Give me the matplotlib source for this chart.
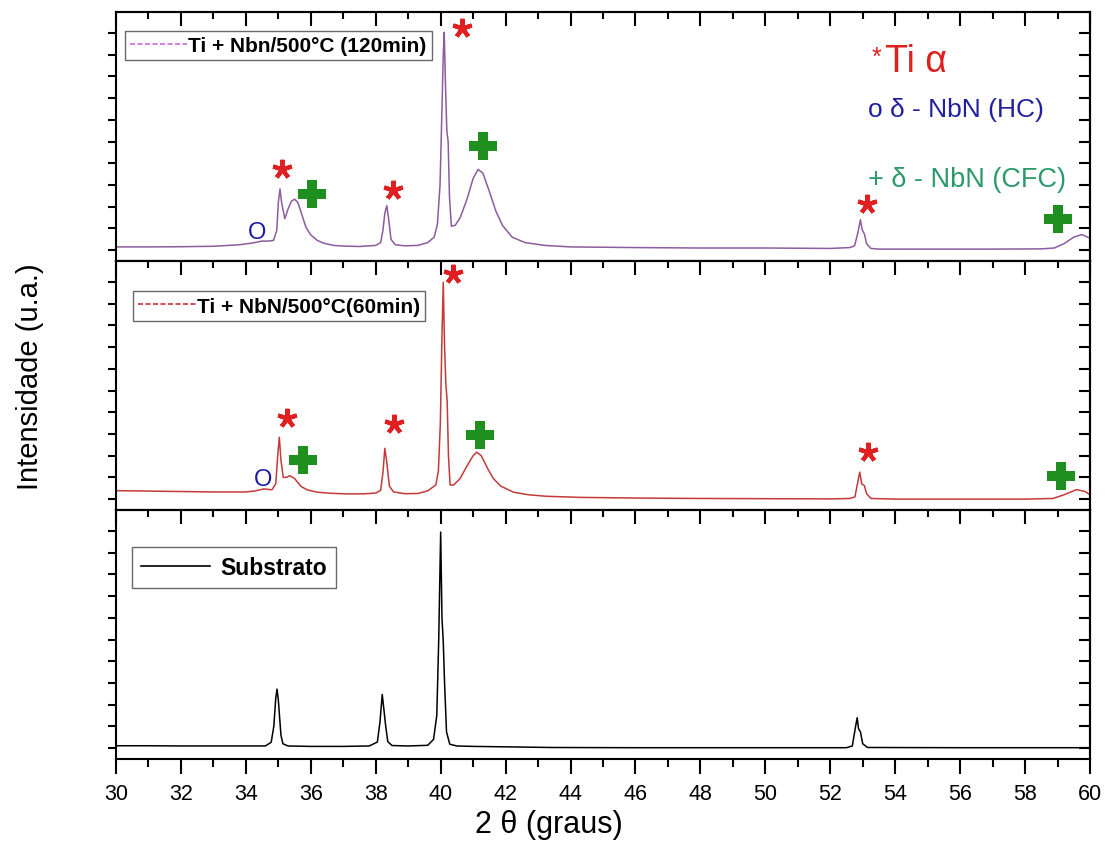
import matplotlib
matplotlib.use("Agg")
import matplotlib.pyplot as plt
from matplotlib.ticker import MultipleLocator
from matplotlib.lines import Line2D

plt.rcParams['font.family'] = ['Liberation Sans', 'DejaVu Sans']

# --- data (2theta in degrees, intensity in arbitrary units) ---
x_top = [30.0, 31.0, 32.0, 33.0, 33.8, 34.2, 34.5, 34.7, 34.85, 34.95, 35.0, 35.05, 35.1, 35.2,
         35.3, 35.4, 35.5, 35.6, 35.7, 35.85, 36.0, 36.2, 36.4, 36.7, 37.0, 37.5, 38.0, 38.15,
         38.22, 38.28, 38.34, 38.4, 38.47, 38.6, 38.9, 39.3, 39.6, 39.8, 39.9, 39.98, 40.04,
         40.08, 40.11, 40.15, 40.19, 40.23, 40.27, 40.33, 40.45, 40.6, 40.8, 41.0, 41.15, 41.3,
         41.5, 41.7, 41.9, 42.2, 42.6, 43.2, 44.0, 46.0, 48.0, 50.0, 52.0, 52.6, 52.75, 52.85,
         52.93, 52.98, 53.05, 53.12, 53.25, 53.5, 55.0, 57.0, 58.5, 58.9, 59.2, 59.5, 59.75, 60.0]
y_top = [0.15, 0.15, 0.16, 0.18, 0.25, 0.33, 0.42, 0.42, 0.45, 0.9, 2.2, 2.82, 2.2, 1.45,
         1.9, 2.25, 2.35, 2.2, 1.75, 1.05, 0.7, 0.45, 0.32, 0.22, 0.19, 0.17, 0.22, 0.35,
         0.9, 1.7, 2.05, 1.4, 0.5, 0.25, 0.2, 0.22, 0.35, 0.6, 1.2, 3.0, 6.5,
         9.0, 10.04, 7.5, 5.5, 5.0, 2.5, 1.1, 1.15, 1.5, 2.3, 3.3, 3.72, 3.55,
         2.7, 1.8, 1.15, 0.6, 0.35, 0.22, 0.15, 0.12, 0.1, 0.1, 0.08, 0.12, 0.2, 0.8,
         1.4, 0.95, 0.75, 0.3, 0.08, 0.05, 0.05, 0.05, 0.06, 0.1, 0.3, 0.6, 0.72, 0.55]

x_mid = [30.0, 31.0, 32.0, 33.0, 34.0, 34.3, 34.55, 34.8, 34.92, 34.98, 35.03, 35.08, 35.15,
         35.25, 35.35, 35.5, 35.7, 35.9, 36.2, 36.6, 37.1, 37.6, 38.0, 38.15, 38.22, 38.28,
         38.34, 38.42, 38.55, 38.9, 39.3, 39.6, 39.85, 39.93, 39.99, 40.04, 40.08, 40.12,
         40.16, 40.2, 40.24, 40.29, 40.4, 40.6, 40.8, 41.0, 41.11, 41.25, 41.45, 41.62, 41.85,
         42.24, 42.7, 43.26, 44.29, 46.0, 48.0, 50.0, 52.0, 52.6, 52.76, 52.85, 52.91, 52.97,
         53.05, 53.12, 53.25, 54.0, 56.0, 58.0, 58.86, 59.2, 59.59, 59.85, 60.0]
y_mid = [0.39, 0.37, 0.35, 0.33, 0.33, 0.38, 0.47, 0.43, 0.7, 2.0, 2.85, 1.8, 1.0,
         1.0, 1.08, 0.95, 0.58, 0.42, 0.32, 0.27, 0.24, 0.24, 0.28, 0.4, 1.2, 2.34,
         1.7, 0.6, 0.33, 0.25, 0.26, 0.38, 0.65, 1.3, 3.5, 7.5, 9.99, 7.0,
         5.3, 4.5, 2.0, 0.65, 0.65, 0.95, 1.5, 2.0, 2.16, 2.0, 1.4, 0.95, 0.6,
         0.32, 0.2, 0.13, 0.08, 0.05, 0.03, 0.02, 0.01, 0.03, 0.1, 0.8, 1.24, 0.7,
         0.62, 0.25, 0.03, 0.0, 0.0, 0.0, 0.03, 0.2, 0.44, 0.35, 0.2]

x_sub = [30.0, 31.0, 32.0, 33.0, 34.0, 34.6, 34.78, 34.86, 34.92, 34.96, 35.0, 35.04, 35.08,
         35.14, 35.3, 36.0, 37.0, 37.8, 38.05, 38.13, 38.2, 38.25, 38.3, 38.37, 38.5, 39.0,
         39.6, 39.78, 39.88, 39.94, 39.97, 40.0, 40.04, 40.08, 40.12, 40.18, 40.28, 40.5,
         41.0, 42.0, 43.4, 46.0, 50.0, 52.5, 52.68, 52.78, 52.83, 52.87, 52.93, 53.0, 53.15,
         56.0, 60.0]
y_sub = [0.11, 0.11, 0.1, 0.1, 0.1, 0.1, 0.27, 1.0, 2.3, 2.72, 2.2, 1.4, 0.6,
         0.2, 0.1, 0.08, 0.08, 0.1, 0.28, 1.2, 2.47, 1.8, 1.1, 0.3, 0.12, 0.1,
         0.13, 0.4, 1.5, 5.0, 7.5, 9.95, 6.0, 4.9, 3.0, 0.75, 0.18, 0.1,
         0.08, 0.06, 0.03, 0.02, 0.02, 0.02, 0.1, 1.0, 1.4, 0.9, 0.75, 0.2, 0.03,
         0.02, 0.02]

labels = ["Ti + Nbn/500°C (120min)", "Ti + NbN/500°C(60min)", "Substrato"]

# peak identification marks (x, y)
ti_top = [(35.1, 3.75), (38.54, 2.75), (40.65, 10.25), (53.12, 2.15)]
cfc_top = [(36.03, 2.6), (41.31, 4.8), (59.02, 1.45)]
hc_top = [(34.33, 0.82)]
ti_mid = [(35.28, 3.73), (38.56, 3.46), (40.39, 10.38), (53.17, 2.16)]
cfc_mid = [(35.77, 1.82), (41.21, 2.96), (59.1, 1.05)]
hc_mid = [(34.52, 0.93)]

red = '#e02020'
green = '#1f8f1f'
blue = '#1a1aa8'

fig = plt.figure(figsize=(11.05, 8.45), dpi=100)
left, width = 0.105, 0.8814
h = 0.2947
ax_top = fig.add_axes([left, 0.6899, width, h])
ax_mid = fig.add_axes([left, 0.3953, width, h])
ax_sub = fig.add_axes([left, 0.1006, width, h])


def style(ax, show_bottom):
    ax.set_xlim(30, 60)
    ax.set_ylim(-0.5, 10.97)
    ax.xaxis.set_major_locator(MultipleLocator(2))
    ax.xaxis.set_minor_locator(MultipleLocator(1))
    ax.set_yticks(range(11))
    ax.tick_params(axis='y', direction='out', length=6, width=1.5, labelleft=False)
    ax.tick_params(axis='x', which='major', direction='out', length=11, width=1.5,
                   bottom=show_bottom, labelbottom=show_bottom, labelsize=15.5, pad=6)
    ax.tick_params(axis='x', which='minor', direction='out', length=6, width=1.5,
                   bottom=show_bottom)
    for s in ax.spines.values():
        s.set_linewidth(1.5)
    top = ax.secondary_xaxis('top')
    top.xaxis.set_major_locator(MultipleLocator(2))
    top.xaxis.set_minor_locator(MultipleLocator(1))
    top.tick_params(which='major', direction='in', length=10, width=1.5, labeltop=False)
    top.tick_params(which='minor', direction='in', length=5, width=1.5)
    top.spines['top'].set_linewidth(1.5)
    right = ax.secondary_yaxis('right')
    right.set_yticks(range(11))
    right.tick_params(direction='in', length=8, width=1.5, labelright=False)
    right.spines['right'].set_linewidth(1.5)


def marks(ax, ti, cfc, hc):
    ax.plot([p[0] for p in ti], [p[1] for p in ti], linestyle='none', marker=(5, 2, 0),
            ms=14, mew=3, color=red)
    ax.plot([p[0] for p in cfc], [p[1] for p in cfc], linestyle='none', marker='P',
            ms=20, mew=0, color=green)
    for x, y in hc:
        ax.text(x, y, 'O', color=blue, fontsize=17, ha='center', va='center')


style(ax_top, False)
style(ax_mid, False)
style(ax_sub, True)

ax_top.plot(x_top, y_top, color='#8d5b9e', lw=1.1)
ax_mid.plot(x_mid, y_mid, color='#c43a3a', lw=1.1)
ax_sub.plot(x_sub, y_sub, color='black', lw=1.1)

marks(ax_top, ti_top, cfc_top, hc_top)
marks(ax_mid, ti_mid, cfc_mid, hc_mid)

leg_kw = dict(loc='upper left', frameon=True, fancybox=False, borderaxespad=0,
              prop={'weight': 'bold', 'size': 15}, borderpad=0.25, handletextpad=0.05,
              handlelength=2.75)
lg = ax_top.legend(handles=[Line2D([], [], color='#cc66dd', ls='--', lw=1.2, dashes=(3, 1.5))],
                   labels=[labels[0]], bbox_to_anchor=(0.009, 0.925), **leg_kw)
lg.get_frame().set_edgecolor('#444444'); lg.get_frame().set_linewidth(1.0)
lg = ax_mid.legend(handles=[Line2D([], [], color='#d03030', ls='--', lw=1.2, dashes=(3, 1.5))],
                   labels=[labels[1]], bbox_to_anchor=(0.0175, 0.878), **leg_kw)
lg.get_frame().set_edgecolor('#444444'); lg.get_frame().set_linewidth(1.0)
leg_kw.update(prop={'weight': 'bold', 'size': 16.5}, handletextpad=0.45, handlelength=3.0,
              borderpad=0.4)
lg = ax_sub.legend(handles=[Line2D([], [], color='black', lw=1.2)],
                   labels=[labels[2]], bbox_to_anchor=(0.0164, 0.852), **leg_kw)
lg.get_frame().set_edgecolor('#444444'); lg.get_frame().set_linewidth(1.0)

# phase key in the top panel
ax_top.text(0.776, 0.82, '*', transform=ax_top.transAxes, color=red, fontsize=18,
            ha='left', va='center')
ax_top.text(0.7895, 0.805, 'Ti α', transform=ax_top.transAxes, color=red, fontsize=27,
            ha='left', va='center')
ax_top.text(0.772, 0.610, 'o δ - NbN (HC)', transform=ax_top.transAxes, color='#2020a0',
            fontsize=19, ha='left', va='center')
ax_top.text(0.772, 0.329, '+ δ - NbN (CFC)', transform=ax_top.transAxes, color='#2a9a6a',
            fontsize=19.5, ha='left', va='center')

fig.text(0.027, 0.554, 'Intensidade (u.a.)', rotation=90, fontsize=21, ha='center', va='center')
fig.text(0.43, 0.024, '2 θ (graus)', fontsize=22, ha='left', va='center')

fig.savefig('out.png', dpi=100)
